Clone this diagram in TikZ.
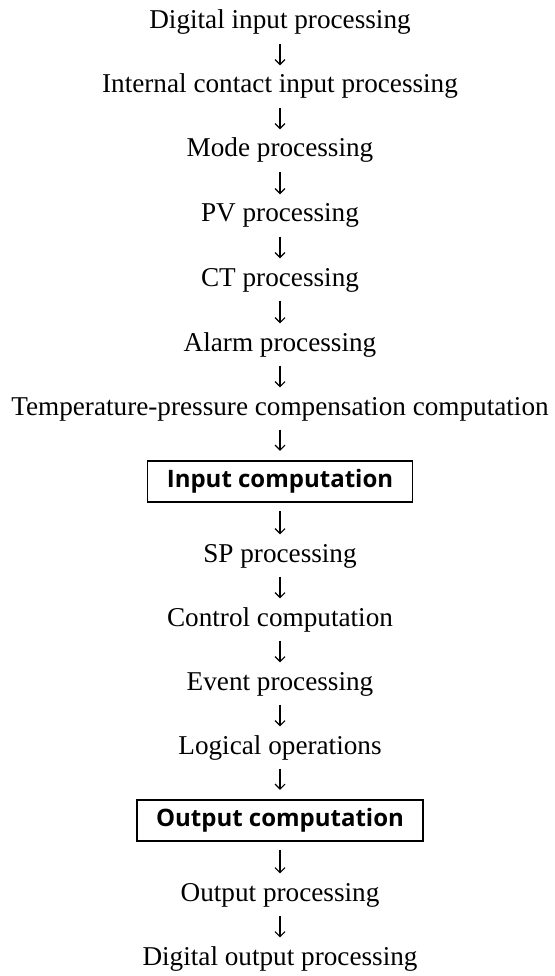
\documentclass[tikz,border=0pt]{standalone}
\usepackage{fontspec}
\setmainfont{Liberation Serif}
\newfontfamily\boxfont{Open Sans}
\usetikzlibrary{arrows.meta}
\begin{document}
\begin{tikzpicture}[x=1pt,y=-1pt,
  lbl/.style={anchor=base, inner sep=0pt, text height=18pt, text depth=6pt,
    font=\fontsize{27.2}{30}\selectfont},
  boxed/.style={draw, line width=1.4pt, minimum height=41pt, inner sep=0pt,
    font=\boxfont\bfseries\fontsize{24}{27}\selectfont},
  arr/.style={-{Straight Barb[length=5pt,width=10pt]}, line width=1.1pt,
    shorten <=8.5pt, shorten >=9.5pt}]
\fill[white] (0,0) rectangle (554,976);
\useasboundingbox (0,0) rectangle (554,976);
\node[lbl] (d1) at (280,29) {Digital input processing};
\node[lbl] (d2) at (280,93) {Internal contact input processing};
\node[lbl] (d3) at (280,157) {Mode processing};
\node[lbl] (d4) at (280,222) {PV processing};
\node[lbl] (d5) at (280,286) {CT processing};
\node[lbl] (d6) at (280,351) {Alarm processing};
\node[lbl] (d7) at (280,415) {Temperature-pressure compensation computation};
\node[boxed, minimum width=265pt] (b1) at (280,481.5) {Input computation};
\node[lbl] (d8) at (280,562) {SP processing};
\node[lbl] (d9) at (280,626) {Control computation};
\node[lbl] (d10) at (280,690) {Event processing};
\node[lbl] (d11) at (280,754) {Logical operations};
\node[boxed, minimum width=286pt] (b2) at (280,820.5) {Output computation};
\node[lbl] (d12) at (280,901) {Output processing};
\node[lbl] (d13) at (280,965) {Digital output processing};
\foreach \a/\b in {d1/d2,d2/d3,d3/d4,d4/d5,d5/d6,d6/d7,d7/b1,b1/d8,d8/d9,d9/d10,d10/d11,d11/b2,b2/d12,d12/d13}
  \draw[arr] (\a) -- (\b);
\end{tikzpicture}
\end{document}
